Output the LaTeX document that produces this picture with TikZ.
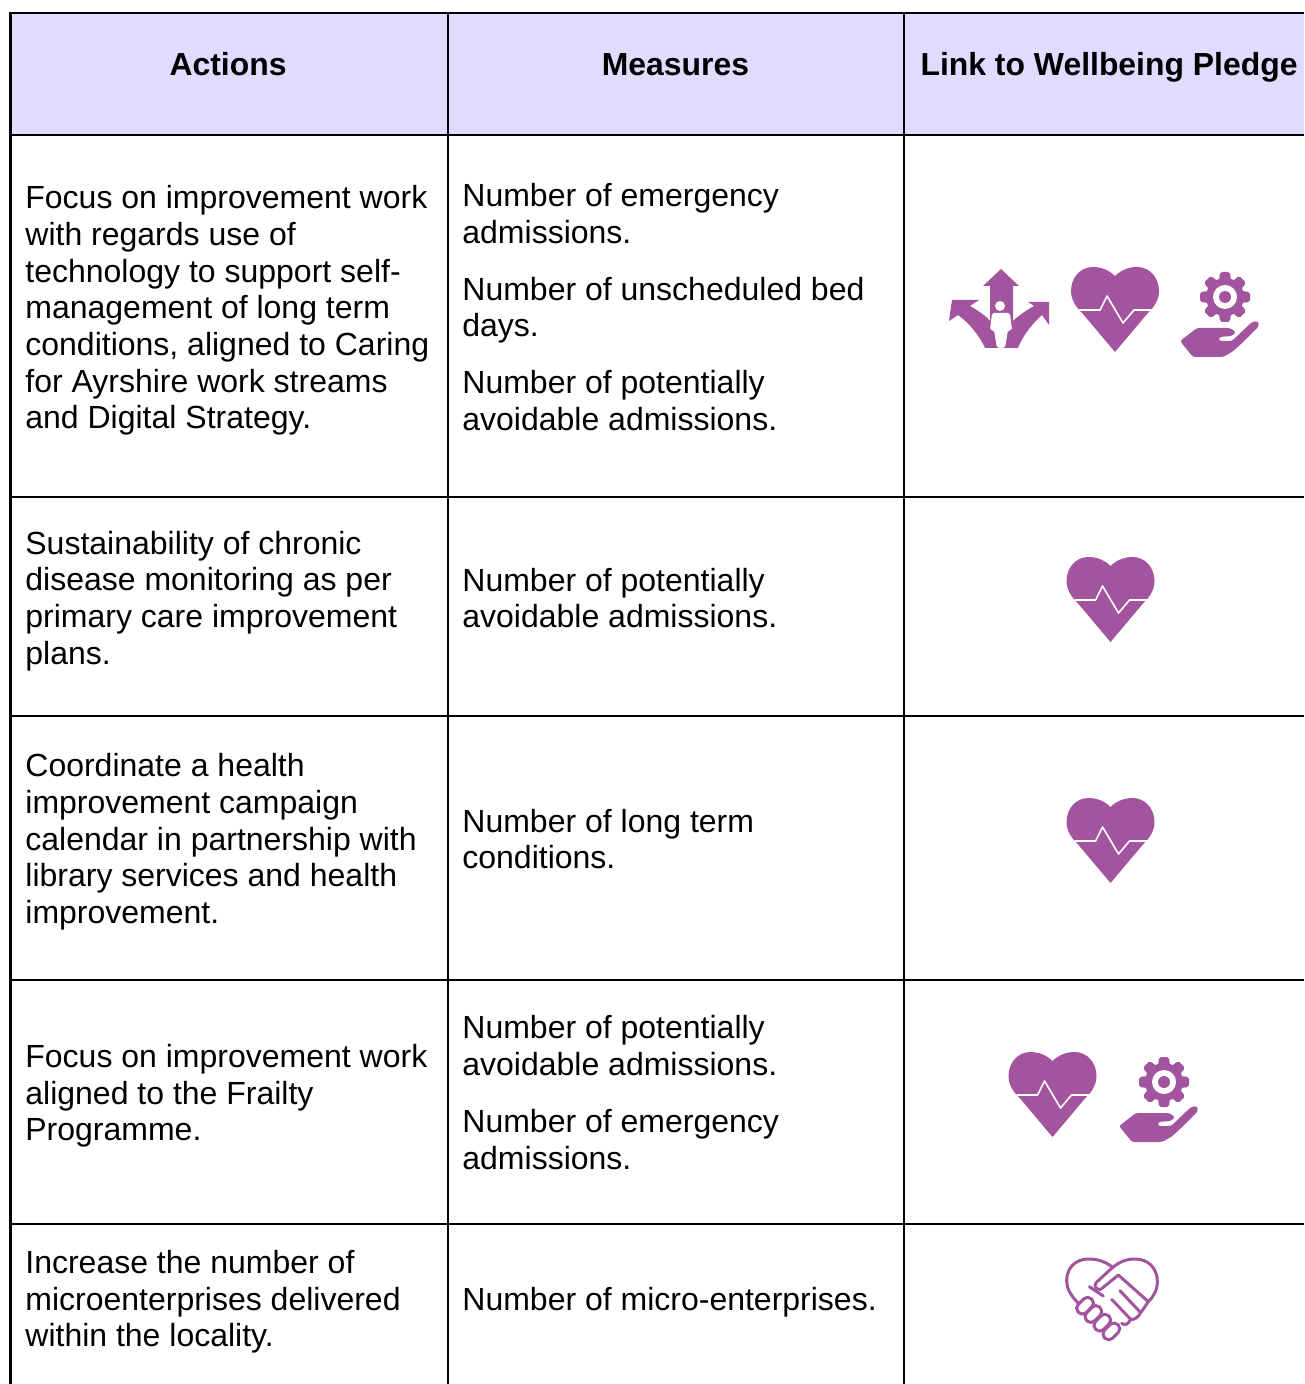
\documentclass[tikz,border=0pt]{standalone}
\usepackage{fontspec}
\setmainfont{Liberation Sans}
\definecolor{headfill}{HTML}{E0DBFF}
\definecolor{iconpurple}{HTML}{A3549F}
\tikzset{
  x=0.5pt,y=-0.5pt,
  gridline/.style={black,line width=1.1pt},
  headcell/.style={fill=headfill,draw=none},
  headtext/.style={inner sep=0pt,anchor=base,font=\fontsize{15.95}{19}\selectfont\bfseries},
  celltext/.style={inner sep=0pt,anchor=west,align=left,font=\fontsize{16}{18.35}\selectfont},
  pics/pulseheart/.style={code={
    \fill[iconpurple] (0,9) .. controls (-6,3) and (-14,0) .. (-22,0) .. controls (-35,0) and (-44,11) .. (-44,24) .. controls (-44,34) and (-38,41) .. (-32,47) -- (0,85) -- (32,47) .. controls (38,41) and (44,34) .. (44,24) .. controls (44,11) and (35,0) .. (22,0) .. controls (14,0) and (6,3) .. (0,9) -- cycle;
    \draw[white,line width=0.8pt,line join=round] (-36,43) -- (-15,43) -- (-8,29) -- (8,56) -- (19,43) -- (38,43);
  }},
  pics/gearhand/.style={code={
    \foreach \a in {0,45,...,315}{\fill[iconpurple,rotate=\a,rounded corners=1pt] (-6,-16) -- (-5,-25) -- (5,-25) -- (6,-16) -- cycle;}
    \fill[iconpurple] (0,0) circle[radius=19];
    \fill[white] (0,0) circle[radius=12];
    \fill[iconpurple] (0,0) circle[radius=6];
    \fill[iconpurple,rounded corners=1.2pt] (-45,44) -- (-28,31) -- (5,31) -- (11,35) -- (7,39) -- (-6,40) -- (-6,44) -- (7,44) -- (27,25) -- (33,24) -- (34,29) -- (15,48) -- (7,55) -- (-2,60) -- (-32,60) -- cycle;
  }},
  pics/pathsperson/.style={code={
    \fill[iconpurple] (0,0) -- (18,17) -- (12,17) -- (12,79) -- (-11,79) -- (-11,17) -- (-18,17) -- cycle;
    \fill[iconpurple] (-22,31) -- (-49,31) -- (-52,52) -- (-43,46) .. controls (-32,54) and (-22,66) .. (-16,79) -- (-11,79) -- (-11,52) .. controls (-16,46) and (-24,41) .. (-31,37) -- cycle;
    \fill[iconpurple] (27,33) -- (48,33) -- (48,56) -- (41,46) .. controls (32,54) and (22,66) .. (17,79) -- (12,79) -- (12,52) .. controls (18,46) and (26,41) .. (33,37) -- cycle;
    \fill[white] (-1,37) circle[radius=5];
    \fill[white,rounded corners=1pt] (-9,44) -- (9,44) -- (11,61) -- (7,61) -- (4,79) -- (-4,79) -- (-7,61) -- (-11,61) -- cycle;
  }},
  pics/shakeheart/.style={code={
    \begin{scope}[x=0.1667pt,y=-0.1667pt,draw=iconpurple,line width=1.5pt,line join=round,line cap=round]
      \draw (120,195) .. controls (90,165) and (80,145) .. (80,122) .. controls (80,85) and (105,57) .. (145,57) .. controls (175,57) and (198,66) .. (218,82);
      \draw (218,82) .. controls (238,66) and (258,57) .. (285,57) .. controls (325,57) and (352,85) .. (352,125) .. controls (352,150) and (340,170) .. (325,185);
      \draw (218,82) -- (168,128) .. controls (160,140) and (170,150) .. (182,148) -- (235,105) -- (325,185);
      \draw (148,140) -- (190,168);
      \draw (215,178) -- (272,238);
      \draw (240,152) -- (302,218);
      \draw (325,185) -- (302,218) .. controls (295,232) and (282,240) .. (272,238);
      \draw (272,238) .. controls (265,252) and (255,258) .. (245,250);
      \foreach \cx/\cy in {135/197,160/222,187/248,214/274}{
        \draw[fill=white,rotate around={45:(\cx,\cy)},rounded corners=2.6pt] (\cx-28,\cy-17) rectangle (\cx+28,\cy+17);
      }
    \end{scope}
  }},
}
\begin{document}
\begin{tikzpicture}
\useasboundingbox (0,0) rectangle (1304,1384);
\fill[white] (0,0) rectangle (1304,1384);
\fill[headcell] (10,13) rectangle (1304,135);
% grid
\draw[gridline] (1304,13) -- (10.5,13) -- (10.5,1384);
\draw[gridline] (448,13) -- (448,1384);
\draw[gridline] (904,13) -- (904,1384);
\foreach \yy in {135,497,716,980,1224}{\draw[gridline] (10,\yy) -- (1304,\yy);}
% header
\node[headtext] (h1) at (228,75.5) {Actions};
\node[headtext] (h2) at (675.5,75.5) {Measures};
\node[headtext] (h3) at (1109,75.5) {Link to Wellbeing Pledge};
% row 1
\node[celltext] (a1) at (25,310.5) {Focus on improvement work\\with regards use of\\technology to support self-\\management of long term\\conditions, aligned to Caring\\for Ayrshire work streams\\and Digital Strategy.};
\node[celltext] (m1) at (462,307) {Number of emergency\\admissions.\\[10pt]Number of unscheduled bed\\days.\\[10pt]Number of potentially\\avoidable admissions.};
\pic at (1001,269) {pathsperson};
\pic at (1115,267) {pulseheart};
\pic at (1225,297) {gearhand};
% row 2
\node[celltext] (a2) at (25,601) {Sustainability of chronic\\disease monitoring as per\\primary care improvement\\plans.};
\node[celltext] (m2) at (462,598) {Number of potentially\\avoidable admissions.};
\pic at (1110.5,557) {pulseheart};
% row 3
\node[celltext] (a3) at (25,842) {Coordinate a health\\improvement campaign\\calendar in partnership with\\library services and health\\improvement.};
\node[celltext] (m3) at (462,839) {Number of long term\\conditions.};
\pic at (1110.5,798) {pulseheart};
% row 4
\node[celltext] (a4) at (25,1096) {Focus on improvement work\\aligned to the Frailty\\Programme.};
\node[celltext] (m4) at (462,1092.5) {Number of potentially\\avoidable admissions.\\[10pt]Number of emergency\\admissions.};
\pic at (1052.5,1052) {pulseheart};
\pic at (1164,1082) {gearhand};
% row 5
\node[celltext] (a5) at (25,1302) {Increase the number of\\microenterprises delivered\\within the locality.};
\node[celltext] (m5) at (462,1302) {Number of micro-enterprises.};
\pic at (1040,1240) {shakeheart};
\end{tikzpicture}
\end{document}
